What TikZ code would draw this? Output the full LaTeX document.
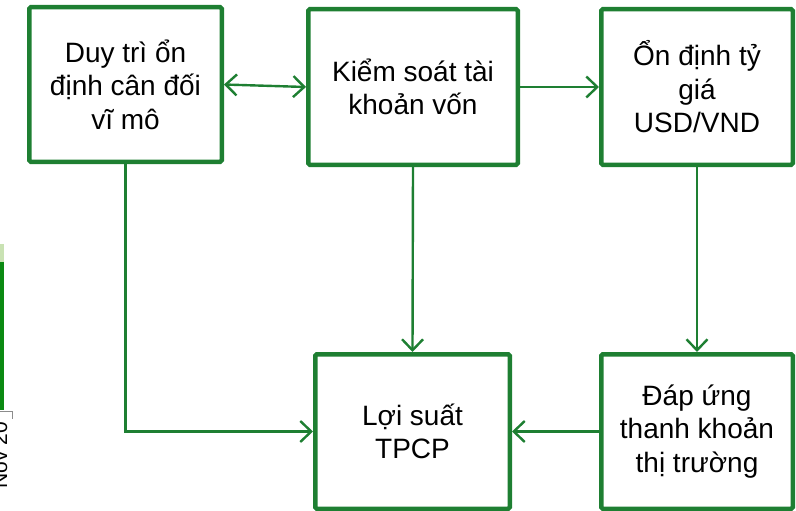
\documentclass[tikz,border=0pt]{standalone}
\usepackage{fontspec}
\setmainfont{Liberation Sans}
\usepackage{tikz}
\usetikzlibrary{arrows.meta}
\definecolor{ggBox}{HTML}{1E7F32}
\definecolor{ggBar}{HTML}{0B8A12}
\definecolor{ggBarTop}{HTML}{C9E2B3}
\definecolor{ggAxis}{HTML}{8C8C8C}

\begin{document}
\begin{tikzpicture}[
  x=1pt, y=-1pt,
  font=\fontsize{28}{33.5}\selectfont,
  >={Straight Barb[length=11pt, width=21pt]},
  box/.style={draw=ggBox, line width=4.5pt, rounded corners=1.5pt, align=center, inner sep=0pt},
  lk/.style={draw=ggBox, line width=2.4pt},
]
\useasboundingbox (0,0) rectangle (796,511);
% cut-off chart on the left edge
\begin{scope}
\clip (0,0) rectangle (796,511);
\fill[ggBar] (0,244) rectangle (4,410);
\fill[ggBarTop] (0,244) rectangle (4,262);
\draw[ggAxis, line width=1pt] (0,411) -- (12,411) -- (12,419);
\node[rotate=90, font=\fontsize{21}{24}\selectfont, inner sep=0pt] (nov) at (0,455) {Nov 20};
\end{scope}
% boxes, top row
\node[box, minimum width=192.5pt, minimum height=154.5pt] (cdvm) at (125.5,84.5) {Duy trì ổn\\định cân đối\\vĩ mô};
\node[box, minimum width=209.5pt, minimum height=155.5pt] (kstk) at (413,87) {Kiểm soát tài\\khoản vốn};
\node[box, minimum width=191.5pt, minimum height=155.5pt] (tygia) at (697,87) {Ổn định tỷ\\giá\\USD/VND};
% boxes, bottom row
\node[box, minimum width=194.5pt, minimum height=154.5pt] (tpcp) at (412.5,431.5) {Lợi suất\\TPCP};
\node[box, minimum width=191.5pt, minimum height=154.5pt] (tkhoan) at (697,431.5) {Đáp ứng\\thanh khoản\\thị trường};
% links
\draw[lk, <->] (cdvm.east) -- (kstk.west);
\draw[lk, ->] (kstk.east) -- (tygia.west);
\draw[lk, ->] (cdvm.south) |- (tpcp.west);
\draw[lk, ->] (kstk.south) -- (tpcp.north);
\draw[lk, ->] (tygia.south) -- (tkhoan.north);
\draw[lk, ->] (tkhoan.west) -- (tpcp.east);
\end{tikzpicture}
\end{document}
